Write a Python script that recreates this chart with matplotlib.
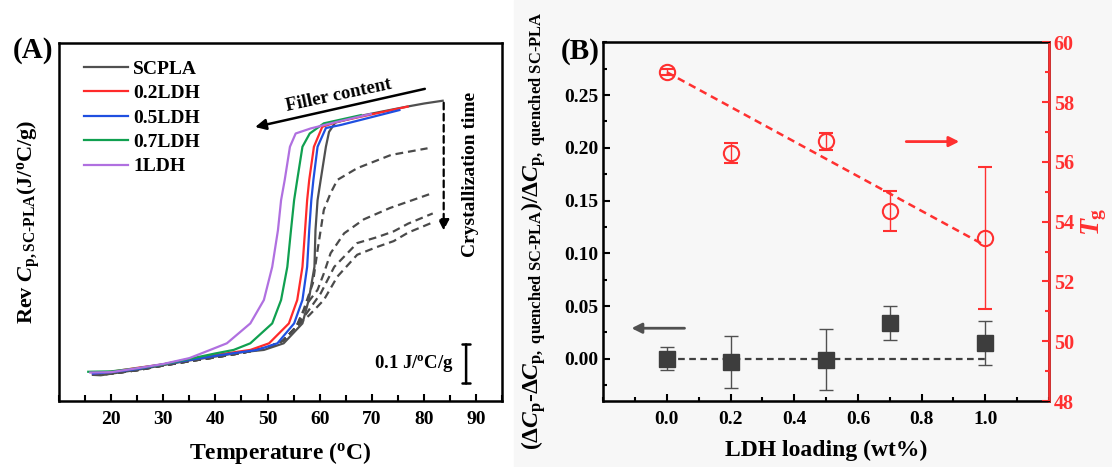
import numpy as np
import matplotlib
matplotlib.use("Agg")
import matplotlib.pyplot as plt
from matplotlib.ticker import MultipleLocator

plt.rcParams['font.family'] = ['Liberation Serif', 'DejaVu Serif']
plt.rcParams['font.weight'] = 'bold'
plt.rcParams['mathtext.fontset'] = 'custom'
plt.rcParams['mathtext.rm'] = 'Liberation Serif:bold'
plt.rcParams['mathtext.it'] = 'Liberation Serif:bold:italic'
plt.rcParams['mathtext.bf'] = 'Liberation Serif:bold'

# ---- panel A : reversing Cp curves (T in degC, Cp in J/degC/g, arbitrary offset)
scpla_T = [16.5, 18, 20, 25, 30, 35, 40, 45, 49.3, 53.1, 56.7, 57.9, 59.0, 59.2, 59.6, 60.2, 61.2,
           61.8, 63.0, 68.5, 76.8, 80.1, 83.6]
scpla_Y = [0.067, 0.066, 0.070, 0.080, 0.092, 0.104, 0.114, 0.125, 0.131, 0.148, 0.199, 0.259, 0.344,
           0.438, 0.515, 0.567, 0.652, 0.690, 0.714, 0.733, 0.755, 0.763, 0.770]
ldh02_T = [16.5, 20, 25, 30, 35, 40, 46.7, 50.3, 54.1, 55.7, 56.7, 57.2, 57.6, 58.0, 58.9, 60.5, 63.4,
           70, 76.9]
ldh02_Y = [0.070, 0.075, 0.085, 0.094, 0.106, 0.118, 0.131, 0.148, 0.199, 0.259, 0.344, 0.438, 0.515,
           0.567, 0.652, 0.703, 0.716, 0.735, 0.755]
ldh05_T = [16.5, 20, 25, 30, 35, 40, 48.0, 51.9, 55.1, 56.7, 57.6, 58.0, 58.4, 58.8, 59.6, 61.2, 64.1,
           70, 75.3]
ldh05_Y = [0.070, 0.074, 0.082, 0.094, 0.105, 0.116, 0.131, 0.148, 0.199, 0.259, 0.344, 0.438, 0.515,
           0.567, 0.652, 0.700, 0.708, 0.728, 0.746]
ldh07_T = [15.6, 20, 25, 30, 35, 40, 43.5, 46.7, 50.9, 52.6, 53.8, 54.5, 55.1, 55.7, 56.7, 58.1, 60.8,
           67.9]
ldh07_Y = [0.075, 0.076, 0.084, 0.094, 0.108, 0.122, 0.131, 0.148, 0.199, 0.259, 0.344, 0.438, 0.515,
           0.567, 0.652, 0.686, 0.712, 0.733]
ldh1_T = [16, 20, 25, 30, 35, 39, 42.2, 46.7, 49.3, 50.9, 52.0, 52.6, 53.3, 54.3, 55.4, 58.3, 63.4, 69.8]
ldh1_Y = [0.073, 0.074, 0.084, 0.095, 0.110, 0.131, 0.148, 0.199, 0.259, 0.344, 0.438, 0.515, 0.567,
          0.652, 0.686, 0.699, 0.716, 0.736]

# dashed curves (longer crystallization time)
base_T = [16.5, 20, 25, 30, 35, 40, 45, 50, 53, 55.5]
base_Y = [0.067, 0.070, 0.079, 0.091, 0.102, 0.112, 0.123, 0.137, 0.155, 0.190]
dash1_T = base_T + [56.9, 58.7, 59.6, 60.8, 62.1, 63.4, 67.2, 73.7, 80.7]
dash1_Y = base_Y + [0.233, 0.302, 0.387, 0.490, 0.533, 0.567, 0.597, 0.631, 0.648]
dash2_T = base_T + [57.6, 59.6, 60.8, 62.1, 64.7, 68.5, 73.5, 81.0]
dash2_Y = base_Y + [0.250, 0.285, 0.327, 0.379, 0.430, 0.466, 0.495, 0.530]
dash3_T = base_T + [57.5, 60.2, 62.8, 67.2, 71, 74.2, 77, 81.7]
dash3_Y = base_Y + [0.225, 0.276, 0.344, 0.405, 0.420, 0.435, 0.455, 0.481]
dash4_T = base_T + [58.0, 60.8, 63.4, 67.2, 71, 74.2, 77, 81.7]
dash4_Y = base_Y + [0.220, 0.259, 0.319, 0.375, 0.395, 0.410, 0.432, 0.458]

# ---- panel B
loading = [0.0, 0.2, 0.5, 0.7, 1.0]
dcp = [0.000, -0.003, -0.001, 0.034, 0.015]
dcp_err = [0.011, 0.025, 0.029, 0.016, 0.021]
tg = [59.02, 56.31, 56.69, 54.35, 53.45]
tg_err = [0.10, 0.33, 0.29, 0.66, 2.38]
fit_x = [0.0, 1.0]
fit_tg = [59.0, 53.2]
zero_x = [0.0, 1.0]
zero_y = [0.0, 0.0]

fig = plt.figure(figsize=(11.12, 4.67), dpi=100)
fig.patches.append(plt.Rectangle((0.462, 0), 0.538, 1, transform=fig.transFigure,
                                 color='#f7f7f7', zorder=-10))

# ================= (A)
axA = fig.add_axes([0.0531, 0.1413, 0.3984, 0.7666])
lw = 1.6
axA.plot(dash1_T, dash1_Y, color='#4a4a4a', lw=lw, dashes=(3.5, 2.2))
axA.plot(dash2_T, dash2_Y, color='#4a4a4a', lw=lw, dashes=(3.5, 2.2))
axA.plot(dash3_T, dash3_Y, color='#4a4a4a', lw=lw, dashes=(3.5, 2.2))
axA.plot(dash4_T, dash4_Y, color='#4a4a4a', lw=lw, dashes=(3.5, 2.2))
axA.plot(scpla_T, scpla_Y, color='#505050', lw=lw, label='SCPLA')
axA.plot(ldh02_T, ldh02_Y, color='#ff2a2a', lw=lw, label='0.2LDH')
axA.plot(ldh05_T, ldh05_Y, color='#1f4fe0', lw=lw, label='0.5LDH')
axA.plot(ldh07_T, ldh07_Y, color='#10a050', lw=lw, label='0.7LDH')
axA.plot(ldh1_T, ldh1_Y, color='#b070e0', lw=lw, label='1LDH')

axA.set_xlim(10, 95)
axA.set_ylim(0, 0.918)
axA.xaxis.set_minor_locator(MultipleLocator(5))
axA.set_xticks([20, 30, 40, 50, 60, 70, 80, 90])
axA.set_yticks([])
axA.tick_params(axis='x', direction='in', length=5, width=1.5, labelsize=14, pad=7)
axA.tick_params(axis='x', which='minor', direction='in', length=4, width=1.5)
for s in axA.spines.values():
    s.set_linewidth(1.8)
axA.set_xlabel('Temperature ($^{\\rm o}$C)', fontsize=17, fontweight='bold', labelpad=9)
axA.set_ylabel('Rev $\\mathit{C}_{\\mathrm{p,SC\\text{-}PLA}}$(J/$^{\\rm o}$C/g)', fontsize=16,
               fontweight='bold', labelpad=12)
axA.legend(loc='upper left', frameon=False, fontsize=14, handlelength=2.3, handletextpad=0.25,
           labelspacing=0.35, borderaxespad=0.3, bbox_to_anchor=(0.025, 0.99))

axA.annotate('', xy=(47.1, 0.701), xytext=(80.7, 0.802),
             arrowprops=dict(arrowstyle='-|>', color='black', lw=1.8, mutation_scale=16))
axA.text(63.7, 0.784, 'Filler content', rotation=12, ha='center', va='center', fontsize=13.5)
axA.annotate('', xy=(83.8, 0.43), xytext=(83.8, 0.772),
             arrowprops=dict(arrowstyle='-|>', color='black', lw=1.6, ls=(0, (3, 2)),
                             mutation_scale=16))
axA.text(89.0, 0.58, 'Crystallization time', rotation=90, ha='center', va='center', fontsize=14)
axA.annotate('', xy=(88.1, 0.045), xytext=(88.1, 0.145),
             arrowprops=dict(arrowstyle='|-|', color='black', lw=1.8, mutation_scale=3,
                             shrinkA=0, shrinkB=0))
axA.text(85.8, 0.097, '0.1 J/$^{\\rm o}$C/g', ha='right', va='center', fontsize=13.5)

fig.text(0.030, 0.891, '(A)', ha='center', va='center', fontsize=21, fontweight='bold')

# ================= (B)
axB = fig.add_axes([0.5425, 0.1413, 0.4008, 0.768])
axB.set_facecolor('#f7f7f7')
axB.plot(zero_x, zero_y, color='#404040', lw=1.6, dashes=(3, 2))
axB.errorbar(loading, dcp, yerr=dcp_err, fmt='s', color='#3d3d3d', ms=11, ecolor='#505050',
             elinewidth=1, capsize=5, capthick=1)
axB.set_xlim(-0.2, 1.2)
axB.set_ylim(-0.04, 0.30)
axB.xaxis.set_minor_locator(MultipleLocator(0.1))
axB.yaxis.set_minor_locator(MultipleLocator(0.025))
axB.set_xticks([0.0, 0.2, 0.4, 0.6, 0.8, 1.0])
axB.set_yticks([0.00, 0.05, 0.10, 0.15, 0.20, 0.25])
axB.xaxis.set_major_formatter(plt.FormatStrFormatter('%.1f'))
axB.yaxis.set_major_formatter(plt.FormatStrFormatter('%.2f'))
axB.tick_params(axis='both', which='major', direction='in', length=5, width=1.5, labelsize=14)
axB.tick_params(axis='both', which='minor', direction='in', length=3, width=1.5)
axB.tick_params(axis='x', pad=7)
for s in axB.spines.values():
    s.set_linewidth(1.8)
axB.set_xlabel('LDH loading (wt%)', fontsize=17, fontweight='bold', labelpad=9)
axB.set_ylabel('($\\Delta\\mathit{C}_{\\mathrm{p}}$-$\\Delta\\mathit{C}_{\\mathrm{p,\\ quenched\\ SC\\text{-}PLA}}$)'
               '/$\\Delta\\mathit{C}_{\\mathrm{p,\\ quenched\\ SC\\text{-}PLA}}$',
               fontsize=17, fontweight='bold')
axB.yaxis.set_label_coords(-0.125, 0.475)
axB.annotate('', xy=(-0.12, 0.029), xytext=(0.064, 0.029),
             arrowprops=dict(arrowstyle='-|>', color='#505050', lw=2, mutation_scale=15))

red = '#ff3030'
axR = axB.twinx()
axR.plot(fit_x, fit_tg, color=red, lw=1.8, dashes=(3, 2))
axR.errorbar(loading, tg, yerr=tg_err, fmt='o', color=red, mfc='none', mec=red, mew=1.5, ms=11,
             ecolor=red, elinewidth=1, capsize=5, capthick=1)
axR.set_ylim(48, 60)
axR.yaxis.set_major_locator(MultipleLocator(2))
axR.yaxis.set_minor_locator(MultipleLocator(1))
axR.tick_params(axis='y', which='major', direction='in', length=5, width=1.5, colors=red,
                labelsize=14.5)
axR.tick_params(axis='y', which='minor', direction='in', length=3, width=1.5, colors=red)
axR.spines['right'].set_color(red)
axR.spines['right'].set_linewidth(1.8)
axR.set_ylabel('$\\mathit{T}_{\\mathrm{g}}$', color=red, fontsize=20, fontweight='bold', labelpad=4)
axR.annotate('', xy=(0.927, 56.68), xytext=(0.743, 56.68),
             arrowprops=dict(arrowstyle='-|>', color=red, lw=2, mutation_scale=15))

fig.text(0.522, 0.889, '(B)', ha='center', va='center', fontsize=21, fontweight='bold')

fig.savefig('out.png', dpi=100)
